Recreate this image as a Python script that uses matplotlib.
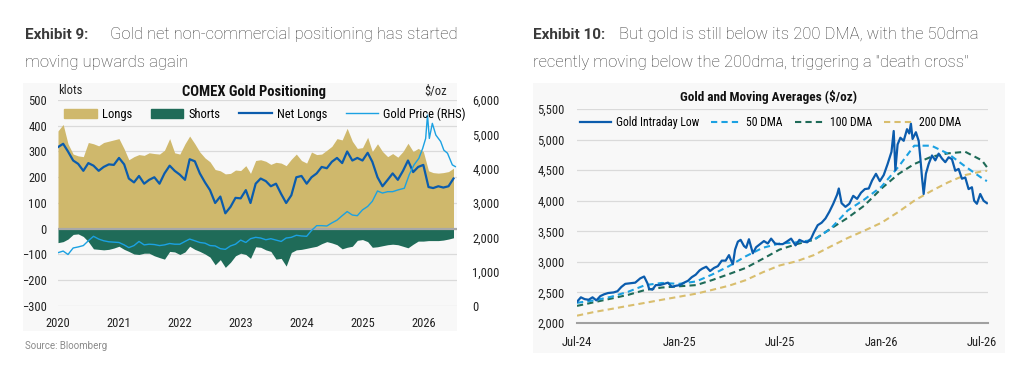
import numpy as np
import pandas as pd
import matplotlib
matplotlib.use("Agg")
import matplotlib.pyplot as plt
import matplotlib.dates as mdates
from matplotlib.patches import Rectangle, Patch
from matplotlib.lines import Line2D
from matplotlib.ticker import FuncFormatter

# ---------------- Exhibit 9 data (monthly, klots) ----------------
pos_dates = pd.date_range("2020-01-01", "2026-07-01", freq="MS")
longs = [
    380, 405, 330, 290, 283, 280, 335, 330, 322, 335, 340, 345,
    350, 310, 268, 280, 288, 285, 295, 292, 290, 305, 350, 295,
    290, 330, 360, 330, 298, 275, 260, 230, 225, 213, 215, 228,
    226, 245, 215, 265, 268, 262, 250, 258, 255, 245, 270, 290,
    265, 255, 298, 288, 290, 305, 320, 350, 345, 390, 340, 312,
    315, 355, 300, 330, 300, 280, 292, 278, 300, 332, 300, 312,
    300, 225, 218, 216, 218, 222, 235]
shorts = [
    -54, -50, -40, -22, -20, -30, -50, -78, -80, -82, -80, -75,
    -68, -80, -88, -98, -100, -95, -95, -105, -112, -118, -88, -90,
    -100, -90, -68, -80, -88, -98, -110, -140, -120, -150, -130, -105,
    -95, -100, -115, -70, -72, -82, -88, -118, -115, -145, -92, -82,
    -80, -76, -72, -68, -58, -50, -55, -62, -78, -72, -68, -45,
    -42, -50, -72, -70, -66, -62, -60, -62, -68, -74, -60, -48,
    -48, -46, -46, -46, -44, -40, -35]
net_longs = [
    317, 330, 300, 265, 252, 225, 255, 245, 225, 240, 250, 248,
    275, 250, 195, 180, 205, 175, 190, 200, 175, 215, 245, 225,
    210, 190, 270, 262, 215, 180, 150, 100, 125, 60, 85, 120,
    118, 150, 100, 175, 195, 185, 165, 175, 135, 100, 130, 200,
    205, 175, 200, 215, 240, 235, 260, 275, 255, 300, 265, 275,
    265, 295, 260, 200, 165, 190, 215, 190, 225, 265, 220, 240,
    248, 162, 158, 165, 160, 165, 195]

# gold price ($/oz): monthly to Aug-2025, then finer points
gold_monthly_dates = pd.date_range("2020-01-01", "2025-08-01", freq="MS")
gold_monthly = [
    1553, 1600, 1500, 1690, 1720, 1760, 1900, 2030, 1950, 1900, 1870, 1860,
    1850, 1780, 1700, 1760, 1880, 1780, 1800, 1790, 1760, 1780, 1820, 1800,
    1800, 1880, 1950, 1900, 1850, 1830, 1760, 1750, 1670, 1650, 1750, 1800,
    1920, 1850, 1960, 2000, 1980, 1930, 1960, 1920, 1880, 1980, 2000, 2060,
    2040, 2030, 2200, 2340, 2340, 2330, 2420, 2500, 2630, 2750, 2650, 2630,
    2800, 2900, 3050, 3350, 3290, 3330, 3330, 3380]
gold_tail_dates = ["2025-09-09", "2025-10-08", "2025-11-06", "2025-12-05", "2025-12-28",
                   "2026-01-15", "2026-01-26", "2026-02-06", "2026-02-24", "2026-03-17",
                   "2026-04-15", "2026-05-04", "2026-05-26", "2026-06-24", "2026-07-12"]
gold_tail = [3430, 3820, 4110, 4300, 4590, 4880, 5560, 4880, 5320, 4980,
             4790, 4540, 4450, 4110, 4060]

# ---------------- Exhibit 10 data ($/oz) ----------------
low_dates = [
    "2024-07-01", "2024-07-08", "2024-07-15", "2024-07-22", "2024-07-29", "2024-08-05",
    "2024-08-12", "2024-08-19", "2024-08-26", "2024-09-05", "2024-09-12", "2024-09-19",
    "2024-09-26", "2024-10-05", "2024-10-14", "2024-10-23", "2024-10-30", "2024-11-05",
    "2024-11-08", "2024-11-14", "2024-11-20", "2024-11-27", "2024-12-05", "2024-12-12",
    "2024-12-19", "2024-12-27", "2025-01-03", "2025-01-10", "2025-01-17", "2025-01-24",
    "2025-01-31", "2025-02-07", "2025-02-12", "2025-02-19", "2025-02-26", "2025-03-05",
    "2025-03-12", "2025-03-19", "2025-03-26", "2025-04-01", "2025-04-04", "2025-04-08",
    "2025-04-12", "2025-04-17", "2025-04-22", "2025-04-28", "2025-05-02", "2025-05-07",
    "2025-05-14", "2025-05-20", "2025-05-27", "2025-06-03", "2025-06-10", "2025-06-16",
    "2025-06-23", "2025-06-30", "2025-07-07", "2025-07-14", "2025-07-22", "2025-07-30",
    "2025-08-06", "2025-08-13", "2025-08-20", "2025-08-27", "2025-09-01", "2025-09-08",
    "2025-09-15", "2025-09-22", "2025-09-29", "2025-10-06", "2025-10-13", "2025-10-16",
    "2025-10-21", "2025-10-28", "2025-11-04", "2025-11-11", "2025-11-18", "2025-11-25",
    "2025-12-02", "2025-12-09", "2025-12-15", "2025-12-22", "2025-12-29", "2026-01-05",
    "2026-01-12", "2026-01-19", "2026-01-23", "2026-01-26", "2026-01-30", "2026-02-04",
    "2026-02-10", "2026-02-16", "2026-02-20", "2026-02-23", "2026-02-26", "2026-03-04",
    "2026-03-09", "2026-03-12", "2026-03-15", "2026-03-18", "2026-03-22", "2026-03-27",
    "2026-04-02", "2026-04-08", "2026-04-14", "2026-04-20", "2026-04-26", "2026-05-02",
    "2026-05-08", "2026-05-14", "2026-05-20", "2026-05-26", "2026-06-01", "2026-06-07",
    "2026-06-13", "2026-06-17", "2026-06-22", "2026-06-28", "2026-07-04", "2026-07-10"]
gold_low = [
    2347, 2420, 2390, 2380, 2420, 2370, 2440, 2470, 2490, 2500, 2520, 2590,
    2640, 2650, 2660, 2730, 2760, 2650, 2560, 2545, 2620, 2620, 2640, 2660,
    2590, 2610, 2620, 2660, 2690, 2750, 2790, 2860, 2890, 2920, 2850, 2900,
    2930, 3020, 3020, 3110, 3040, 2960, 3200, 3330, 3360, 3260, 3230, 3370,
    3140, 3240, 3290, 3340, 3300, 3380, 3300, 3290, 3290, 3330, 3380, 3270,
    3360, 3330, 3320, 3380, 3480, 3600, 3640, 3710, 3820, 3950, 4100, 4200,
    3960, 3900, 3950, 4080, 4030, 4130, 4190, 4200, 4330, 4440, 4320, 4420,
    4600, 4800, 5140, 4500, 4920, 5030, 4980, 5170, 5100, 5260, 5010, 5120,
    4980, 4700, 4380, 4110, 4440, 4600, 4740, 4660, 4770, 4690, 4630, 4710,
    4680, 4490, 4520, 4360, 4380, 4190, 4220, 4000, 3950, 4110, 4000, 3960]

dma_dates = [
    "2024-07-01", "2024-08-01", "2024-09-01", "2024-10-01", "2024-11-01", "2024-12-01",
    "2025-01-01", "2025-02-01", "2025-03-01", "2025-04-01", "2025-05-01", "2025-06-01",
    "2025-07-01", "2025-08-01", "2025-09-01", "2025-10-01", "2025-11-01", "2025-12-01",
    "2026-01-01", "2026-02-01", "2026-03-01", "2026-04-01", "2026-05-01", "2026-06-01",
    "2026-07-01", "2026-07-10"]
dma50 = [2330, 2370, 2430, 2510, 2620, 2655, 2640, 2680, 2790, 2930, 3090, 3230,
         3300, 3320, 3360, 3540, 3840, 4020, 4230, 4560, 4900, 4900, 4770, 4560,
         4370, 4320]
dma100 = [2280, 2340, 2400, 2460, 2540, 2580, 2600, 2620, 2700, 2800, 2900, 3050,
          3200, 3290, 3360, 3540, 3720, 3920, 4200, 4440, 4600, 4720, 4775, 4800,
          4660, 4550]
dma200 = [2120, 2180, 2230, 2280, 2330, 2380, 2430, 2480, 2540, 2610, 2700, 2830,
          2940, 3010, 3110, 3250, 3390, 3510, 3640, 3820, 4000, 4160, 4300, 4420,
          4480, 4490]

# ---------------- style ----------------
TAN = "#CFB86C"
GREEN = "#1F6B58"
DBLUE = "#0B5CAD"
LBLUE = "#1BA1E2"
DTAN = "#D9BE6E"
GRID = "#DADADA"
TXT = "#222222"
COND = ["Roboto Condensed", "Liberation Sans Narrow", "Roboto", "DejaVu Sans"]
HEAD = ["Roboto", "DejaVu Sans"]

W, H = 1024, 369
fig = plt.figure(figsize=(W / 100, H / 100), dpi=100)
fig.patch.set_facecolor("white")


def fx(px):
    return px / W


def fy(py):
    return 1 - py / H


# light grey chart panels
fig.patches.append(Rectangle((fx(23), fy(331)), fx(457) - fx(23), fy(83) - fy(331),
                             transform=fig.transFigure, facecolor="#F8F8F8",
                             edgecolor="none", zorder=-5))
fig.patches.append(Rectangle((fx(533), fy(353)), fx(1005) - fx(533), fy(83) - fy(353),
                             transform=fig.transFigure, facecolor="#F8F8F8",
                             edgecolor="none", zorder=-5))

# headers
for x0, x1, bold, line1, line2 in [
        (25, 110, "Exhibit 9:", "Gold net non-commercial positioning has started",
         "moving upwards again"),
        (533, 619, "Exhibit 10:", "But gold is still below its 200 DMA, with the 50dma",
         "recently moving below the 200dma, triggering a \"death cross\"")]:
    fig.text(fx(x0), fy(35), bold, family=HEAD, fontsize=11, fontweight="bold",
             color="#3A3A3A", va="center", ha="left")
    fig.text(fx(x1), fy(35), line1, family=HEAD, fontsize=12, fontweight="light",
             color="#3C3C3C", va="center", ha="left")
    fig.text(fx(x0), fy(63), line2, family=HEAD, fontsize=12, fontweight="light",
             color="#3C3C3C", va="center", ha="left")

fig.text(fx(25), fy(346), "Source: Bloomberg", family=HEAD, fontsize=7,
         color="#8A8A8A", va="center", ha="left")

# ---------------- Exhibit 9 chart ----------------
ax1 = fig.add_axes([fx(58), fy(306), fx(457) - fx(58), fy(100) - fy(306)])
ax1.set_facecolor("none")
ax1.fill_between(pos_dates, 0, longs, color=TAN, lw=0, zorder=2)
ax1.fill_between(pos_dates, 0, shorts, color=GREEN, lw=0, zorder=2)
ax1.axhline(0, color="#A8A8A8", lw=1.6, zorder=3)
ax1.plot(pos_dates, net_longs, color=DBLUE, lw=1.6, zorder=4)
ax1.set_ylim(-300, 500)
ax1.set_yticks(range(-300, 501, 100))
ax1.grid(axis="y", color=GRID, lw=0.9)
ax1.set_axisbelow(True)
ax1.set_xlim(pd.Timestamp("2020-01-01"), pd.Timestamp("2026-07-22"))
ax1.xaxis.set_major_locator(mdates.YearLocator())
ax1.xaxis.set_major_formatter(mdates.DateFormatter("%Y"))

ax2 = ax1.twinx()
gold_dates = list(gold_monthly_dates) + list(pd.to_datetime(gold_tail_dates))
ax2.plot(gold_dates, gold_monthly + gold_tail, color=LBLUE, lw=1.0, zorder=5)
ax2.set_ylim(0, 6000)
ax2.set_yticks(range(0, 6001, 1000))
ax2.yaxis.set_major_formatter(FuncFormatter(lambda v, p: f"{v:,.0f}"))

for a in (ax1, ax2):
    for s in a.spines.values():
        s.set_visible(False)
    a.tick_params(length=0, labelsize=9, labelcolor=TXT)
    for lab in a.get_xticklabels() + a.get_yticklabels():
        lab.set_family(COND)
ax1.tick_params(axis="y", pad=8)
ax1.tick_params(axis="x", pad=8)
ax2.tick_params(axis="y", pad=11)

ax1.text(0.49, 1.039, "COMEX Gold Positioning", transform=ax1.transAxes, ha="center",
         va="center", fontsize=10.5, fontweight="bold", family=COND, color="#111111")
ax1.text(0.0, 1.045, "klots", transform=ax1.transAxes, ha="left", va="center",
         fontsize=9, family=COND, color=TXT)
ax1.text(0.975, 1.04, "$/oz", transform=ax1.transAxes, ha="right", va="center",
         fontsize=9, family=COND, color=TXT)

h1 = [Patch(color=TAN), Patch(color=GREEN),
      Line2D([], [], color=DBLUE, lw=1.6), Line2D([], [], color=LBLUE, lw=1.0)]
fig.legend(h1, ["Longs", "Shorts", "Net Longs", "Gold Price (RHS)"], loc="center",
           bbox_to_anchor=(fx(265), fy(114)), ncol=4, frameon=False,
           prop={"family": COND, "size": 9}, handlelength=2.6, handleheight=0.8,
           columnspacing=1.5, handletextpad=0.4)

# ---------------- Exhibit 10 chart ----------------
ax3 = fig.add_axes([fx(577), fy(323), fx(988) - fx(577), fy(109) - fy(323)])
ax3.set_facecolor("none")
d_low = pd.to_datetime(low_dates)
d_dma = pd.to_datetime(dma_dates)
ax3.plot(d_dma, dma200, color=DTAN, lw=1.5, ls=(0, (3, 2)), zorder=3)
ax3.plot(d_dma, dma100, color=GREEN, lw=1.5, ls=(0, (3, 2)), zorder=3)
ax3.plot(d_dma, dma50, color=LBLUE, lw=1.5, ls=(0, (3, 2)), zorder=3)
ax3.plot(d_low, gold_low, color=DBLUE, lw=1.6, zorder=4)
ax3.set_ylim(2000, 5500)
ax3.set_yticks(range(2000, 5501, 500))
ax3.yaxis.set_major_formatter(FuncFormatter(lambda v, p: f"{v:,.0f}"))
ax3.grid(axis="y", color=GRID, lw=0.9)
ax3.set_axisbelow(True)
ax3.set_xlim(pd.Timestamp("2024-07-01"), pd.Timestamp("2026-07-12"))
ax3.set_xticks(pd.to_datetime(["2024-07-01", "2025-01-01", "2025-07-01",
                               "2026-01-01", "2026-07-01"]))
ax3.xaxis.set_major_formatter(mdates.DateFormatter("%b-%y"))
for s in ax3.spines.values():
    s.set_visible(False)
ax3.spines["bottom"].set_visible(True)
ax3.spines["bottom"].set_color("#A0A0A0")
ax3.spines["bottom"].set_linewidth(1.5)
ax3.tick_params(length=0, labelsize=9, labelcolor=TXT)
ax3.tick_params(axis="y", pad=9)
ax3.tick_params(axis="x", pad=9)
for lab in ax3.get_xticklabels() + ax3.get_yticklabels():
    lab.set_family(COND)

ax3.text(0.465, 1.056, "Gold and Moving Averages ($/oz)", transform=ax3.transAxes,
         ha="center", va="center", fontsize=9.5, fontweight="bold", family=COND,
         color="#111111")

h3 = [Line2D([], [], color=DBLUE, lw=1.6),
      Line2D([], [], color=LBLUE, lw=1.5, ls=(0, (3, 2))),
      Line2D([], [], color=GREEN, lw=1.5, ls=(0, (3, 2))),
      Line2D([], [], color=DTAN, lw=1.5, ls=(0, (3, 2)))]
fig.legend(h3, ["Gold Intraday Low", "50 DMA", "100 DMA", "200 DMA"], loc="center",
           bbox_to_anchor=(fx(771), fy(123)), ncol=4, frameon=False,
           prop={"family": COND, "size": 8.5}, handlelength=2.6,
           columnspacing=1.0, handletextpad=0.4)

fig.savefig("out.png", dpi=100)
